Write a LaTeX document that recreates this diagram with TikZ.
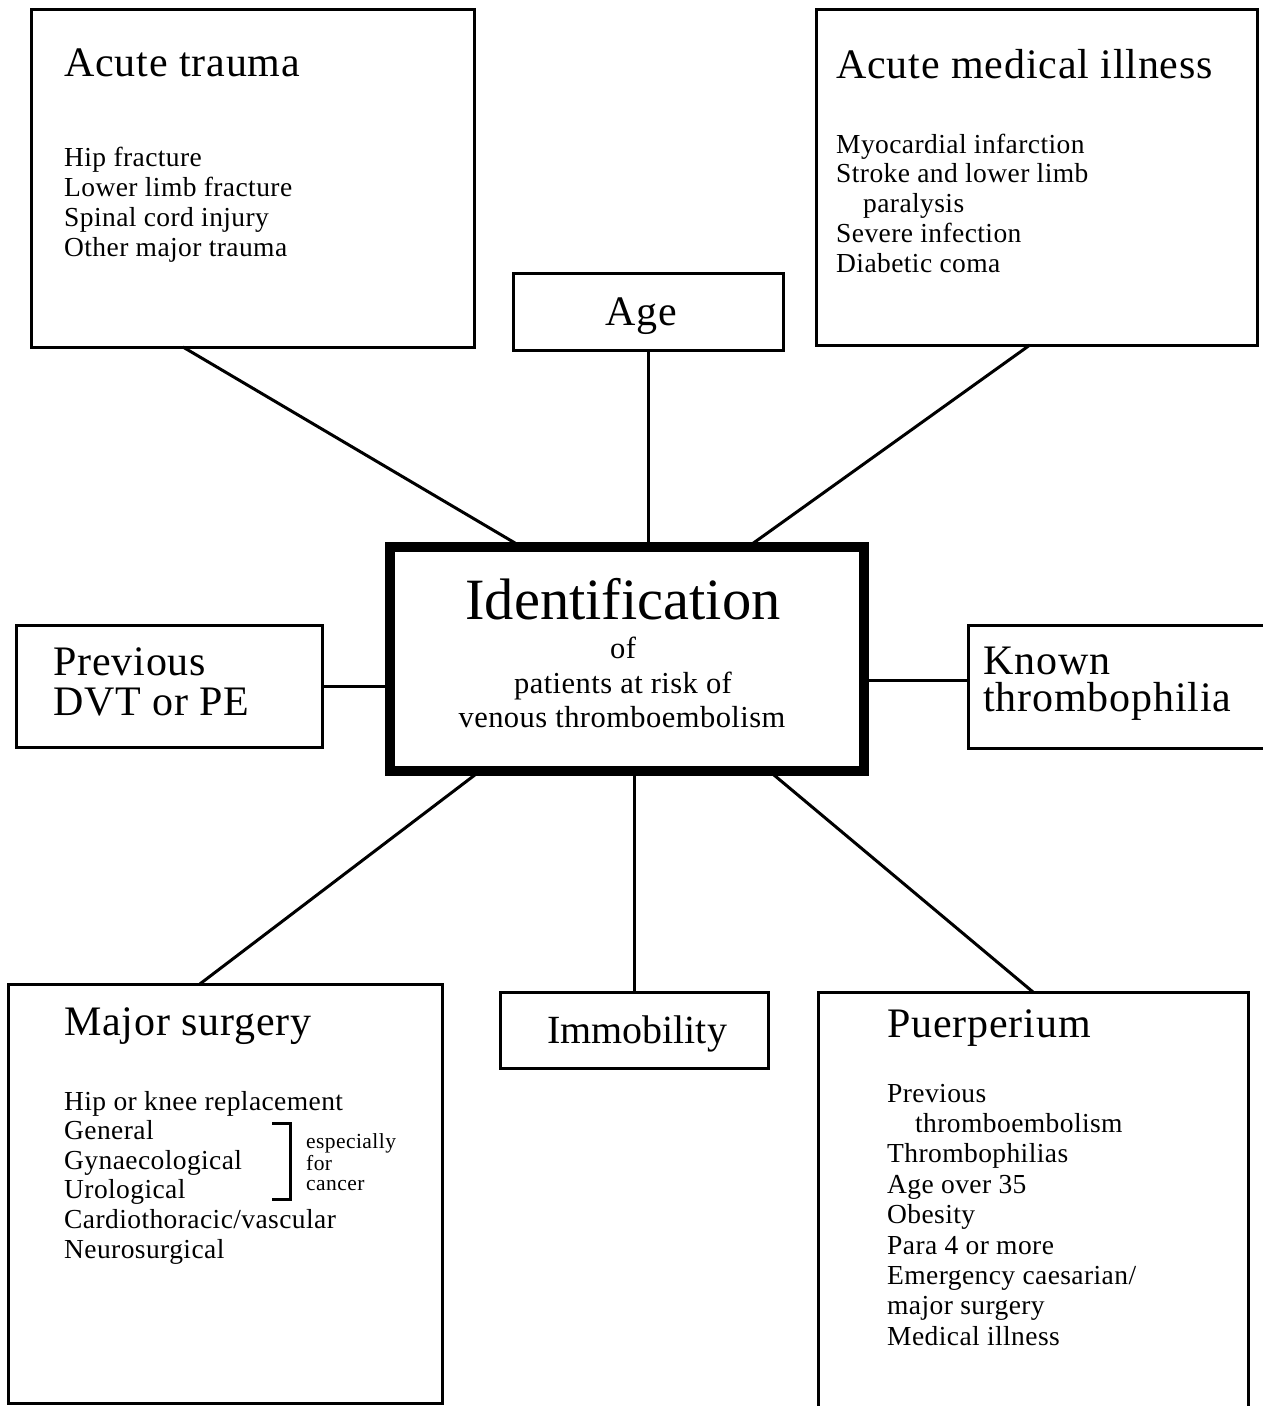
\documentclass[tikz,border=0pt]{standalone}
\usepackage{fontspec}
\usetikzlibrary{calc}
\newfontfamily\titlef[LetterSpace=2]{Liberation Serif}
\newfontfamily\plainf{Liberation Serif}
\newfontfamily\bodyf[LetterSpace=1.5]{Liberation Serif}
\newfontfamily\smallf[LetterSpace=2]{Liberation Serif}
\newcommand\twolines[3]{\vbox{\baselineskip=#1\lineskiplimit=-1000pt\lineskip=0pt\hbox{#2}\hbox{#3}}}
\tikzset{
  box/.style={draw, line width=3, rectangle, inner sep=0, outer sep=0},
  mainbox/.style={draw, line width=10, rectangle, inner sep=0, outer sep=0},
  conn/.style={line width=3},
  ttl/.style={anchor=base west, inner sep=0, font=\titlef\fontsize{42}{42}\selectfont},
  ttlc/.style={anchor=base, inner sep=0, font=\titlef\fontsize{42}{42}\selectfont},
  bdy/.style={anchor=base west, inner sep=0, font=\bodyf\fontsize{27.5}{30}\selectfont},
  cbdy/.style={anchor=base, inner sep=0, font=\bodyf\fontsize{30.5}{31}\selectfont},
  sml/.style={anchor=base west, inner sep=0, font=\smallf\fontsize{21.5}{21.5}\selectfont},
}
\begin{document}
\begin{tikzpicture}[x=1pt,y=-1pt]
\useasboundingbox (0,0) rectangle (1263,1406);
\clip (0,0) rectangle (1263,1406);
\fill[white] (0,0) rectangle (1263,1406);

% boxes
\node[box, minimum width=443, minimum height=338] (trauma) at (252.5,178) {};
\node[box, minimum width=441, minimum height=336] (medical) at (1036.5,177) {};
\node[box, minimum width=270, minimum height=77] (age) at (648,311.5) {};
\node[mainbox, minimum width=474, minimum height=224] (center) at (627,659) {};
\node[box, minimum width=306, minimum height=122] (prev) at (169,686) {};
\node[box, minimum width=302, minimum height=123] (known) at (1119,686.5) {};
\node[box, minimum width=434, minimum height=419] (surgery) at (225,1193.5) {};
\node[box, minimum width=268, minimum height=76] (immob) at (634,1030) {};
\node[box, minimum width=430, minimum height=428] (puer) at (1033,1206) {};

% connectors
\draw[conn] ($(trauma.south west)!0.343!(trauma.south east)$) -- ($(center.north west)!0.278!(center.north east)$);
\draw[conn] (age.south) -- (age.south |- center.north);
\draw[conn] ($(medical.south west)!0.485!(medical.south east)$) -- ($(center.north west)!0.755!(center.north east)$);
\draw[conn] (prev.east) -- (prev.east -| center.west);
\coordinate (kw) at ($(known.north west)!0.45!(known.south west)$);
\draw[conn] (kw) -- (kw -| center.east);
\draw[conn] ($(surgery.north west)!0.442!(surgery.north east)$) -- ($(center.south west)!0.19!(center.south east)$);
\draw[conn] (immob.north) -- (immob.north |- center.south);
\draw[conn] ($(puer.north west)!0.5!(puer.north east)$) -- ($(center.south west)!0.80!(center.south east)$);

% Acute trauma
\node[ttl] (t0) at (64,76) {Acute trauma};
\foreach \t [count=\i] in {Hip fracture, Lower limb fracture, Spinal cord injury, Other major trauma}
  \node[bdy] (t\i) at (64,{166+30*(\i-1)}) {\t};

% Acute medical illness
\node[ttl] (m0) at (836,78) {Acute medical illness};
\foreach \t/\dx [count=\i] in {Myocardial infarction/0, Stroke and lower limb/0, paralysis/27, Severe infection/0, Diabetic coma/0}
  \node[bdy] (m\i) at ({836+\dx},{153+29.8*(\i-1)}) {\t};

% Age
\node[ttlc] (agetxt) at (641,325) {Age};

% centre
\node[anchor=base, inner sep=0, font=\plainf\fontsize{58.5}{58.5}\selectfont] (c0) at (623,619) {Identification};
\node[cbdy] (c1) at (623,658) {of};
\node[cbdy] (c2) at (623,693) {patients at risk of};
\node[cbdy] (c3) at (622,727) {venous thromboembolism};

% Previous DVT
\node[ttl] (ptxt) at (53,715) {\twolines{40pt}{Previous}{DVT or PE}};

% Known thrombophilia
\node[ttl] (ktxt) at (983,711) {\twolines{37pt}{Known}{thrombophilia}};

% Major surgery
\node[ttl] (s0) at (64,1035) {Major surgery};
\foreach \t [count=\i] in {Hip or knee replacement, General, Gynaecological, Urological, Cardiothoracic/vascular, Neurosurgical}
  \node[bdy] (s\i) at (64,{1110+29.6*(\i-1)}) {\t};
\draw[line width=3] (272,1123) -- (290,1123) -- (290,1199) -- (272,1199);
\node[sml] (e1) at (306,1148) {especially};
\node[sml] (e2) at (306,1170) {for};
\node[sml] (e3) at (306,1190) {cancer};

% Immobility
\node[anchor=base, inner sep=0, font=\plainf\fontsize{40}{40}\selectfont] (imtxt) at (637,1043) {Immobility};

% Puerperium
\node[ttl] (u0) at (887,1037) {Puerperium};
\foreach \t/\dx [count=\i] in {Previous/0, thromboembolism/28, Thrombophilias/0, Age over 35/0, Obesity/0, Para 4 or more/0, Emergency caesarian\slash/0, major surgery/0, Medical illness/0}
  \node[bdy] (u\i) at ({887+\dx},{1102+30.4*(\i-1)}) {\t};
\end{tikzpicture}
\end{document}
